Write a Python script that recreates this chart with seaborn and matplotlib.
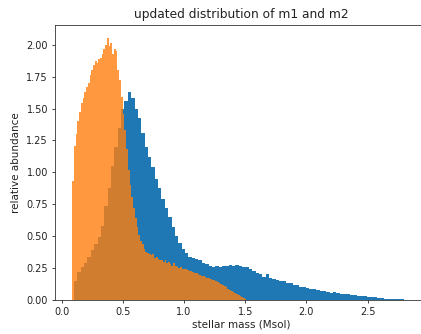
import numpy as np
import pandas as pd
import matplotlib
matplotlib.use("Agg")
import matplotlib.pyplot as plt
import seaborn as sns

# primary-star masses (m1): 100 bins over [0.10, 2.85], density per bin
m1_lo, m1_hi = 0.10, 2.85
m1_density = [
    0.15, 0.22, 0.26, 0.29, 0.34, 0.39, 0.44, 0.49, 0.58, 0.74,
    0.88, 1.05, 1.20, 1.35, 1.50, 1.56, 1.63, 1.58, 1.50, 1.43,
    1.31, 1.20, 1.12, 1.04, 0.95, 0.88, 0.79, 0.72, 0.65, 0.57,
    0.50, 0.45, 0.40, 0.37, 0.34, 0.33, 0.32, 0.31, 0.29, 0.28,
    0.27, 0.26, 0.265, 0.26, 0.27, 0.265, 0.275, 0.27, 0.275, 0.27,
    0.26, 0.255, 0.24, 0.23, 0.215, 0.20, 0.18, 0.205, 0.17, 0.165,
    0.16, 0.15, 0.145, 0.135, 0.13, 0.12, 0.115, 0.105, 0.10, 0.095,
    0.09, 0.085, 0.075, 0.072, 0.068, 0.062, 0.058, 0.06, 0.055, 0.05,
    0.048, 0.045, 0.042, 0.038, 0.035, 0.033, 0.028, 0.025, 0.022, 0.02,
    0.015, 0.012, 0.01, 0.008, 0.006, 0.005, 0.004, 0.004, 0.003, 0.003,
]

# secondary-star masses (m2): 100 bins over [0.085, 1.51], density per bin
m2_lo, m2_hi = 0.085, 1.51
m2_density = [
    0.93, 1.21, 1.30, 1.40, 1.47, 1.54, 1.58, 1.63, 1.67, 1.70,
    1.76, 1.80, 1.84, 1.87, 1.86, 1.89, 1.90, 1.93, 1.97, 2.00,
    2.05, 1.99, 2.01, 1.93, 1.97, 1.95, 1.80, 1.72, 1.59, 1.46,
    1.33, 1.18, 1.02, 0.90, 0.81, 0.72, 0.64, 0.57, 0.51, 0.46,
    0.44, 0.40, 0.38, 0.37, 0.36, 0.35, 0.36, 0.33, 0.34, 0.32,
    0.31, 0.31, 0.30, 0.31, 0.29, 0.30, 0.28, 0.27, 0.29, 0.27,
    0.26, 0.25, 0.26, 0.24, 0.245, 0.24, 0.235, 0.23, 0.225, 0.22,
    0.215, 0.21, 0.20, 0.195, 0.19, 0.185, 0.18, 0.175, 0.17, 0.165,
    0.16, 0.155, 0.15, 0.14, 0.13, 0.125, 0.115, 0.11, 0.10, 0.09,
    0.08, 0.07, 0.06, 0.055, 0.045, 0.04, 0.03, 0.02, 0.015, 0.008,
]

title = "updated distribution of m1 and m2"
xlabel = "stellar mass (Msol)"
ylabel = "relative abundance"


def binned(lo, hi, heights):
    edges = np.linspace(lo, hi, len(heights) + 1)
    centers = 0.5 * (edges[:-1] + edges[1:])
    return edges.tolist(), pd.DataFrame({"mass": centers, "w": heights})


m1_edges, m1_df = binned(m1_lo, m1_hi, m1_density)
m2_edges, m2_df = binned(m2_lo, m2_hi, m2_density)

plt.rcParams["font.family"] = ["DejaVu Sans"]
fig = plt.figure(figsize=(4.21, 3.34), dpi=100)
ax = fig.add_axes([0.1306, 0.1018, 0.885, 0.8234])

sns.histplot(data=m1_df, x="mass", weights="w", bins=m1_edges, stat="count",
             element="step", fill=True, color="#1f77b4", alpha=1.0,
             linewidth=0, ax=ax)
sns.histplot(data=m2_df, x="mass", weights="w", bins=m2_edges, stat="count",
             element="step", fill=True, color="#ff7f0e", alpha=0.8,
             linewidth=0, ax=ax)

ax.set_xlim(-0.055, 2.99)
ax.set_ylim(0, 2.155)
ax.set_xticks([0.0, 0.5, 1.0, 1.5, 2.0, 2.5])
ax.set_yticks(np.arange(0, 2.01, 0.25))
ax.yaxis.set_major_formatter(matplotlib.ticker.FormatStrFormatter("%.2f"))
ax.tick_params(labelsize=7, length=2.5, width=0.6, pad=2.5, colors="#222222")
for s in ax.spines.values():
    s.set_linewidth(0.6)
    s.set_color("#333333")

ax.set_title(title, fontsize=8.8, pad=5, color="#222222")
ax.set_xlabel(xlabel, fontsize=7.5, labelpad=2, color="#222222")
ax.set_ylabel(ylabel, fontsize=7.5, labelpad=4, color="#222222")

fig.savefig("out.png", dpi=100)
